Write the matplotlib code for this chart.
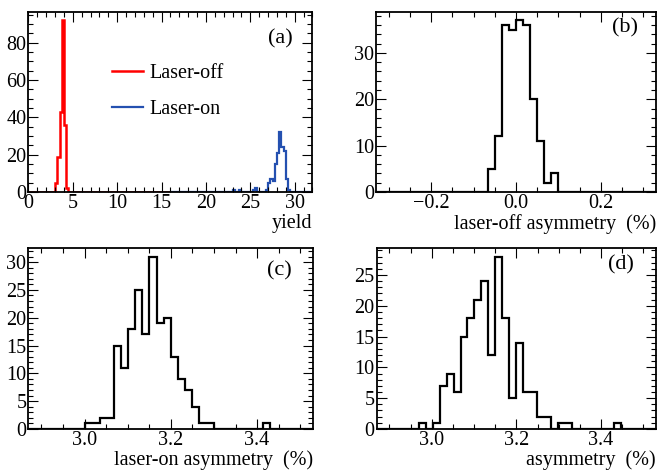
import numpy as np
import matplotlib
matplotlib.use("Agg")
import matplotlib.pyplot as plt
from matplotlib.ticker import MultipleLocator

plt.rcParams['font.family'] = ['Liberation Serif', 'DejaVu Serif']
plt.rcParams['font.size'] = 14.5

# ---- (a) yield, 0.25 wide bins
yield_bw = 0.25
off_range = (0.0, 16.0)
on_range = (16.0, 32.0)
off_first = 3.0
off_counts = [5, 19, 43, 92, 36, 2]
on_first = 23.0
on_counts = [1, 0, 0, 1, 0, 0, 0, 0, 0, 1, 2, 0, 0, 0, 0, 1,
             5, 7, 6, 15, 21, 32, 24, 22, 7, 1]

# ---- (b)(c)(d) asymmetries, 40 bins of +-0.33 around centre
asym_half = 0.33
nbins = 40
off_asym_c = 0.0
off_asym = [0]*16 + [5, 12, 36, 35, 37, 36, 20, 11, 2, 4] + [0]*14
on_asym_c = 3.2
on_asym = ([0]*8 + [1, 1, 2, 2, 15, 11, 18, 25, 17, 31, 19, 20, 13, 9, 7, 4, 1, 1]
           + [0]*7 + [1] + [0]*6)
asym_c = 3.2
asym = ([0]*6 + [1, 0, 1, 7, 9, 6, 15, 18, 21, 24, 12, 28, 18, 5, 14, 6, 6, 2, 2, 0, 1, 1]
        + [0]*6 + [1] + [0]*5)

FS = 14.5
LFS = 16


def full_hist(lo, hi, first, counts):
    edges = np.arange(lo, hi + yield_bw/2, yield_bw)
    h = np.zeros(len(edges) - 1)
    i0 = int(round((first - lo) / yield_bw))
    h[i0:i0+len(counts)] = counts
    return h, edges


def style(ax, xmaj, xmin, ymaj, ymin):
    ax.xaxis.set_major_locator(MultipleLocator(xmaj))
    ax.xaxis.set_minor_locator(MultipleLocator(xmin))
    ax.yaxis.set_major_locator(MultipleLocator(ymaj))
    ax.yaxis.set_minor_locator(MultipleLocator(ymin))
    ax.tick_params(which='both', direction='in', top=True, right=True, width=0.8)
    ax.tick_params(which='major', length=7.5, pad=1.5, labelsize=FS)
    ax.tick_params(which='minor', length=3.8)
    for s in ax.spines.values():
        s.set_linewidth(1.3)


fig = plt.figure(figsize=(6.59, 4.74), dpi=100)
axa = fig.add_axes([0.0432, 0.595, 0.431, 0.380])
axb = fig.add_axes([0.5706, 0.595, 0.425, 0.380])
axc = fig.add_axes([0.0432, 0.095, 0.432, 0.382])
axd = fig.add_axes([0.5716, 0.095, 0.424, 0.382])

# (a)
h, e = full_hist(*off_range, off_first, off_counts)
axa.stairs(h, e, color='red', lw=1.8, baseline=0, label='Laser-off')
h, e = full_hist(*on_range, on_first, on_counts)
axa.stairs(h, e, color='#2450b0', lw=1.6, baseline=0, label='Laser-on')
axa.set_xlim(0, 32)
axa.set_ylim(0, max(off_counts) * 1.05)
style(axa, 5, 1, 20, 5)
axa.set_xlabel('yield', loc='right', labelpad=0.5)
axa.legend(loc='upper left', bbox_to_anchor=(0.26, 0.765), frameon=False,
           handlelength=1.5, handletextpad=0.35, labelspacing=0.8, borderpad=0,
           fontsize=FS)
axa.text(0.931, 0.905, '(a)', transform=axa.transAxes, ha='right', va='top', fontsize=LFS)

# (b)
e = np.linspace(off_asym_c - asym_half, off_asym_c + asym_half, nbins + 1)
axb.stairs(off_asym, e, color='black', lw=1.6, baseline=0)
axb.set_xlim(e[0], e[-1])
axb.set_ylim(0, max(off_asym) * 1.05)
style(axb, 0.2, 0.05, 10, 2)
axb.set_xlabel('laser-off asymmetry  (%)', loc='right', labelpad=0.5)
axb.text(0.936, 0.965, '(b)', transform=axb.transAxes, ha='right', va='top', fontsize=LFS)

# (c)
e = np.linspace(on_asym_c - asym_half, on_asym_c + asym_half, nbins + 1)
axc.stairs(on_asym, e, color='black', lw=1.6, baseline=0)
axc.set_xlim(e[0], e[-1])
axc.set_ylim(0, max(on_asym) * 1.05)
style(axc, 0.2, 0.05, 5, 1)
axc.set_xlabel('laser-on asymmetry  (%)', loc='right', labelpad=0.5)
axc.text(0.925, 0.925, '(c)', transform=axc.transAxes, ha='right', va='top', fontsize=LFS)

# (d)
e = np.linspace(asym_c - asym_half, asym_c + asym_half, nbins + 1)
axd.stairs(asym, e, color='black', lw=1.6, baseline=0)
axd.set_xlim(e[0], e[-1])
axd.set_ylim(0, max(asym) * 1.05)
style(axd, 0.2, 0.05, 5, 1)
axd.set_xlabel('asymmetry  (%)', loc='right', labelpad=0.5)
axd.text(0.922, 0.962, '(d)', transform=axd.transAxes, ha='right', va='top', fontsize=LFS)

fig.savefig('out.png', dpi=100, facecolor='white')
